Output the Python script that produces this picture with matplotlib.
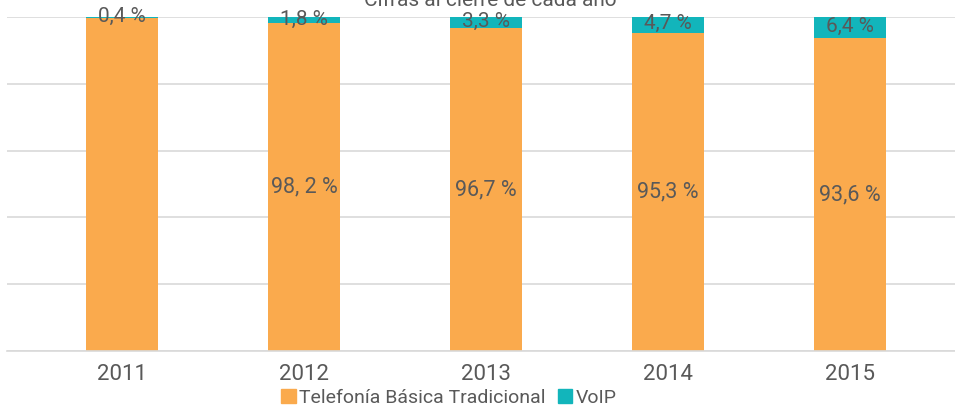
import numpy as np
import matplotlib.pyplot as plt
from matplotlib.patches import Patch

plt.rcParams['font.family'] = ['Roboto', 'DejaVu Sans']

years = ['2011', '2012', '2013', '2014', '2015']
tradicional = np.array([99.6, 98.2, 96.7, 95.3, 93.6])
voip = np.array([0.4, 1.8, 3.3, 4.7, 6.4])
lab_trad = ['', '98, 2 %', '96,7 %', '95,3 %', '93,6 %']
lab_voip = ['0,4 %', '1,8 %', '3,3 %', '4,7 %', '6,4 %']

c_trad = '#FAAA4D'
c_voip = '#12B5BB'
c_text = '#595959'

fig = plt.figure(figsize=(9.55, 4.08), dpi=100)
ax = fig.add_axes([7/955, 57/408, 948/955, 334/408])

x = np.arange(len(years))
ax.bar(x, tradicional, width=0.396, color=c_trad, zorder=2)
ax.bar(x, voip, width=0.396, bottom=tradicional, color=c_voip, zorder=2)

for i in range(len(years)):
    if lab_trad[i]:
        ax.text(x[i], tradicional[i] / 2, lab_trad[i], ha='center', va='center',
                fontsize=15.5, color=c_text, zorder=3)
    ax.text(x[i], tradicional[i] + voip[i] / 2 + 0.3, lab_voip[i], ha='center', va='center',
            fontsize=15, color=c_text, zorder=3)

ax.set_xlim((7 - 122) / 182, (955 - 122) / 182)
ax.set_ylim(0, 100)
ax.set_yticks([0, 20, 40, 60, 80, 100])
ax.yaxis.grid(True, color='#D9D9D9', linewidth=1.2, zorder=0)
ax.tick_params(axis='y', left=False, labelleft=False)
ax.tick_params(axis='x', length=0, pad=9, labelsize=16, labelcolor=c_text)
ax.set_xticks(x)
ax.set_xticklabels(years)
for s in ['top', 'right', 'left']:
    ax.spines[s].set_visible(False)
ax.spines['bottom'].set_color('#D9D9D9')
ax.spines['bottom'].set_linewidth(1.2)

fig.text(490/955, 1 - 1/408, 'Cifras al cierre de cada año', ha='center', va='center',
         fontsize=15, color=c_text)

handles = [Patch(color=c_trad, label='Telefonía Básica Tradicional'),
           Patch(color=c_voip, label='VoIP')]
fig.legend(handles=handles, loc='center', bbox_to_anchor=(449/955, 1 - 398/408), ncol=2,
           frameon=False, fontsize=14, labelcolor=c_text, handlelength=0.75,
           handleheight=0.75, handletextpad=0.2, columnspacing=0.6, borderpad=0)

fig.savefig('out.png', dpi=100)
